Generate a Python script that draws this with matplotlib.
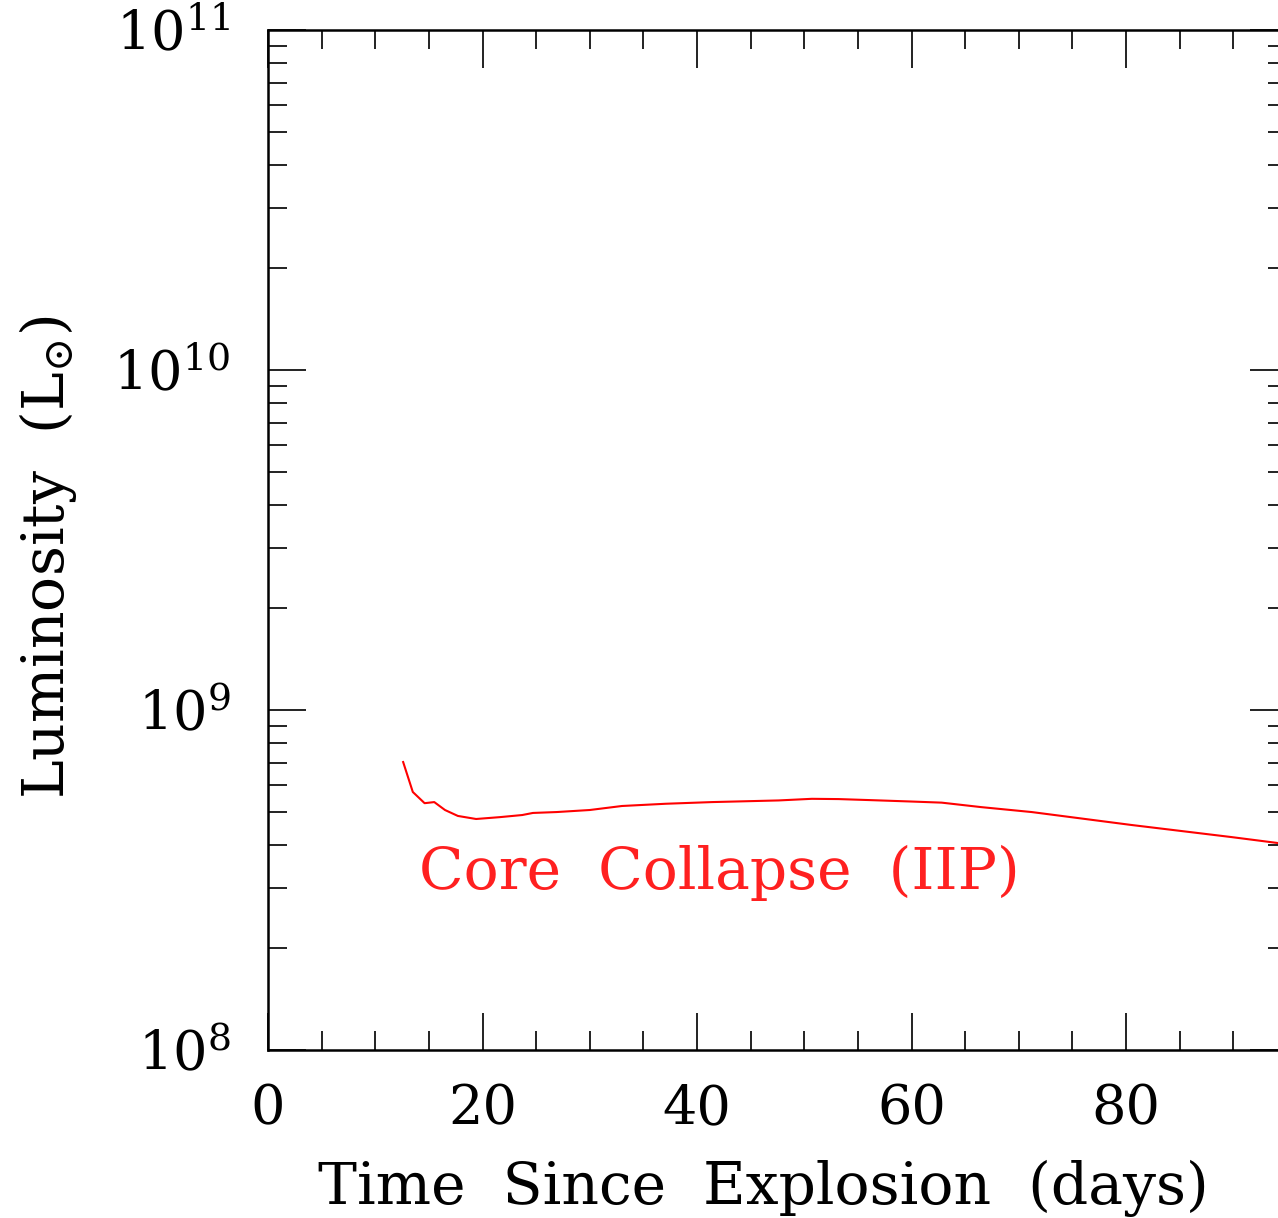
"""
Light curve of a Type IIP core-collapse supernova: luminosity vs time since explosion.
"""

import matplotlib
matplotlib.use('Agg')
import matplotlib.pyplot as plt
import numpy as np
from matplotlib.ticker import MultipleLocator, LogLocator, FuncFormatter, NullFormatter

# Light curve (days, solar luminosities)
days = [12.6, 13.5, 14.6, 15.5, 16.5, 17.7, 19.4, 21.6, 23.7, 24.7, 26.9, 30.0,
        33.0, 37.1, 41.4, 47.6, 50.7, 53.2, 56.3, 60.0, 62.8, 66.5, 71.2, 80.5,
        89.8, 95.0]
lum = [7.03e8, 5.74e8, 5.32e8, 5.36e8, 5.08e8, 4.88e8, 4.78e8, 4.84e8, 4.91e8, 4.98e8,
       5.01e8, 5.08e8, 5.22e8, 5.30e8, 5.36e8, 5.42e8, 5.48e8, 5.47e8, 5.43e8, 5.38e8,
       5.34e8, 5.18e8, 5.01e8, 4.59e8, 4.23e8, 4.03e8]

curve_label = 'Core  Collapse  (IIP)'
x_range = (0, 95)
y_range = (1e8, 1e11)

plt.rcParams.update({
    'font.family': 'DejaVu Serif',
    'mathtext.fontset': 'dejavuserif',
    'font.size': 39,
})

W, H = 1278, 1218
fig = plt.figure(figsize=(W / 100, H / 100), dpi=100)
# axes runs a little past the right edge, as in the cropped original
ax = fig.add_axes([268 / W, 168 / H, 1019 / W, 1020 / H])

ax.plot(days, lum, color='#ff0000', linewidth=1.5)
ax.text(14.1, 3.31e8, curve_label, color='#ff2020', fontsize=42,
        ha='left', va='center')

ax.set_yscale('log')
ax.set_xlim(*x_range)
ax.set_ylim(*y_range)

ax.xaxis.set_major_locator(MultipleLocator(20))
ax.xaxis.set_minor_locator(MultipleLocator(5))
ax.yaxis.set_major_locator(LogLocator(base=10, numticks=10))
ax.yaxis.set_minor_locator(LogLocator(base=10, subs=np.arange(2, 10), numticks=10))
ax.yaxis.set_major_formatter(FuncFormatter(lambda v, _: r'$10^{%d}$' % round(np.log10(v))))
ax.yaxis.set_minor_formatter(NullFormatter())

ax.tick_params(which='both', direction='in', top=True, right=True, color='#222222')
ax.tick_params(which='major', length=27, width=1.4)
ax.tick_params(which='minor', length=14, width=1.4)
ax.tick_params(axis='x', which='major', pad=24)
ax.tick_params(axis='y', which='major', pad=27)
for sp in ax.spines.values():
    sp.set_linewidth(1.8)

ax.set_xlabel('Time  Since  Explosion  (days)', fontsize=42)
ax.xaxis.set_label_coords(0.486, -0.108)
ax.set_ylabel(r'Luminosity  (L$_{\odot}$)', fontsize=42)
ax.yaxis.set_label_coords(-0.185, 0.483)

fig.savefig('out.png', dpi=100, facecolor='white')
